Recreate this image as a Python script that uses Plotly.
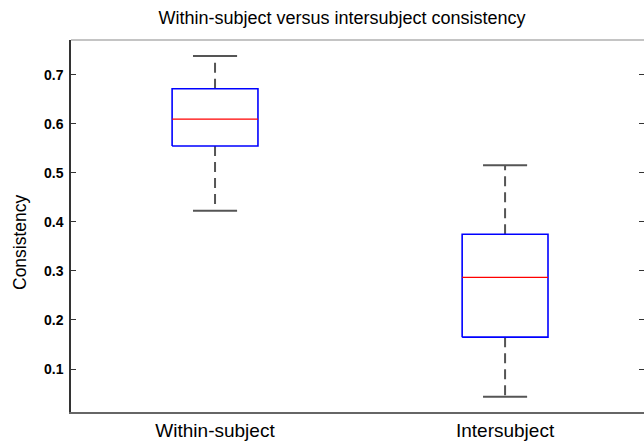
import plotly.graph_objects as go

categories = ["Within-subject", "Intersubject"]
upper_whisker = [0.739, 0.516]
q3 = [0.672, 0.375]
median = [0.610, 0.287]
q1 = [0.555, 0.165]
lower_whisker = [0.423, 0.0435]
y_ticks = [0.1, 0.2, 0.3, 0.4, 0.5, 0.6, 0.7]

BOX_HALF = 0.148
CAP_HALF = 0.076
positions = list(range(1, len(categories) + 1))

fig = go.Figure()

for i, x in enumerate(positions):
    # dashed whiskers
    fig.add_trace(go.Scatter(
        x=[x, x, None, x, x],
        y=[q3[i], upper_whisker[i], None, q1[i], lower_whisker[i]],
        mode="lines", line=dict(color="#555555", width=2, dash="10px,6px"),
        hoverinfo="skip", showlegend=False))
    # caps
    fig.add_trace(go.Scatter(
        x=[x - CAP_HALF, x + CAP_HALF, None, x - CAP_HALF, x + CAP_HALF],
        y=[upper_whisker[i], upper_whisker[i], None, lower_whisker[i], lower_whisker[i]],
        mode="lines", line=dict(color="#555555", width=2),
        hoverinfo="skip", showlegend=False))
    # box
    fig.add_trace(go.Scatter(
        x=[x - BOX_HALF, x + BOX_HALF, x + BOX_HALF, x - BOX_HALF, x - BOX_HALF],
        y=[q1[i], q1[i], q3[i], q3[i], q1[i]],
        mode="lines", line=dict(color="#0000ff", width=1.6),
        hoverinfo="skip", showlegend=False))
    # median
    fig.add_trace(go.Scatter(
        x=[x - BOX_HALF, x + BOX_HALF],
        y=[median[i], median[i]],
        mode="lines", line=dict(color="#ff0000", width=1.4),
        hoverinfo="skip", showlegend=False))

fig.update_layout(
    width=644, height=444,
    margin=dict(l=71, r=0, t=40, b=32, autoexpand=False),
    paper_bgcolor="white", plot_bgcolor="white",
    font=dict(family="Liberation Sans, Arial, sans-serif", color="black"),
    title=dict(text="Within-subject versus intersubject consistency",
               x=0.473, xref="paper", xanchor="center",
               y=1 - 18 / 444, yref="container", yanchor="middle",
               font=dict(size=18, color="black")),
    xaxis=dict(range=[0.5034, 2.479], tickmode="array", tickvals=positions,
               ticktext=categories, ticks="", showgrid=False, zeroline=False,
               showline=True, linecolor="#666666", linewidth=2,
               tickfont=dict(size=19, color="black")),
    yaxis=dict(range=[0.01224, 0.7714], tickmode="array", tickvals=y_ticks,
               tickformat=".1f", ticks="inside", ticklen=5, tickwidth=1,
               tickcolor="#333333", showgrid=False, zeroline=False,
               showline=True, linecolor="#333333", linewidth=1.5,
               mirror="ticks", ticklabelstandoff=3,
               tickfont=dict(size=14, color="black", weight="bold")),
    shapes=[dict(type="line", xref="paper", yref="paper", x0=0, x1=1, y0=1, y1=1,
                 line=dict(color="#b0b0b0", width=1.5))],
    annotations=[dict(text="Consistency", xref="paper", yref="paper",
                      x=-71 / 573 + 20 / 573, y=(412 - 242) / 372,
                      xanchor="center", yanchor="middle", textangle=-90,
                      showarrow=False, font=dict(size=17.5, color="black"))],
)

fig.write_html(
    "out.html",
    config={"displayModeBar": False},
    post_script="document.body.style.margin='0';document.body.style.padding='0';"
                "document.body.style.overflow='hidden';",
)
